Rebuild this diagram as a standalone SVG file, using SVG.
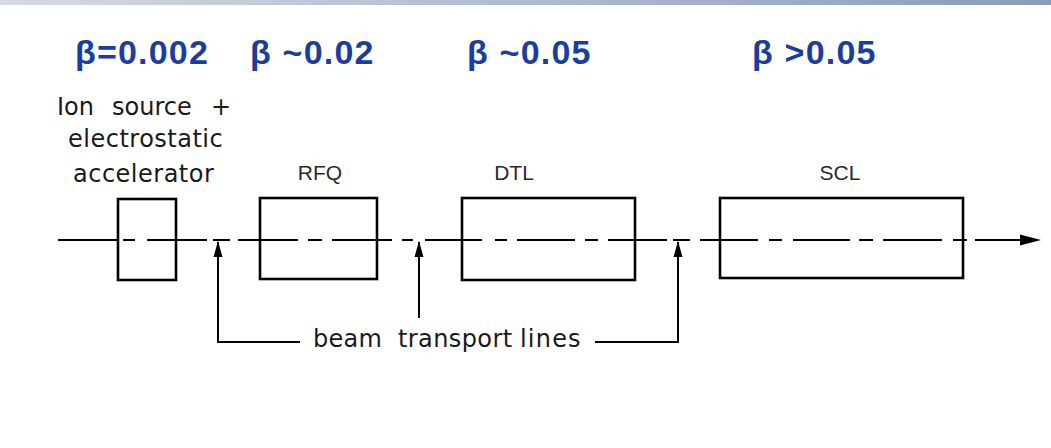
<svg xmlns="http://www.w3.org/2000/svg" width="1051" height="448" viewBox="0 0 1051 448">
  <defs>
    <linearGradient id="bar" x1="0" y1="0" x2="1" y2="0">
      <stop offset="0" stop-color="#d4dae4"/>
      <stop offset="1" stop-color="#8b9cb8"/>
    </linearGradient>
    <marker id="ah" viewBox="0 0 16 10" refX="15" refY="5" markerWidth="16" markerHeight="10" markerUnits="userSpaceOnUse" orient="auto">
      <path d="M0 0.5 L16 5 L0 9.5 Z" fill="#000"/>
    </marker>
  </defs>
  <style>
    .beta { font-family: "Liberation Sans", Arial, sans-serif; font-weight: bold; font-size: 34px; fill: #1b3e9e; letter-spacing: 1.2px; }
    .cad { font-family: "DejaVu Sans", sans-serif; font-size: 24px; fill: #1a1a1a; }
    .lbl { font-family: "Liberation Sans", Arial, sans-serif; font-size: 21px; fill: #2a2a2a; text-anchor: middle; }
    .box { fill: none; stroke: #000; stroke-width: 2.6; }
    .axis { fill: none; stroke: #000; stroke-width: 2; }
    .lead { fill: none; stroke: #000; stroke-width: 2; }
  </style>
  <rect x="0" y="0" width="1051" height="5" fill="url(#bar)"/>
  <rect x="0" y="5" width="1051" height="443" fill="#fff"/>

  <g id="beta-labels">
    <text class="beta" x="75" y="64">β=0.002</text>
    <text class="beta" x="250" y="64">β ~0.02</text>
    <text class="beta" x="467" y="64">β ~0.05</text>
    <text class="beta" x="752" y="64">β &gt;0.05</text>
  </g>

  <g id="connectors">
    <path class="axis" d="M58 240 H118 M123 240 H135 M147 240 H207 M213 240 H230 M238 240 H298 M308 240 H322 M332 240 H392 M402 240 H413 M425 240 H482 M495 240 H507 M517 240 H575 M585 240 H598 M608 240 H667 M673 240 H690 M700 240 H758 M769 240 H782 M793 240 H850 M859 240 H873 M883 240 H942 M953 240 H967 M975 240 H1024"/>
    <path d="M1020 234.5 L1041 240 L1020 245.5 Z" fill="#000"/>
    <path class="lead" d="M300 342 H218 V242" marker-end="url(#ah)"/>
    <path class="lead" d="M419 318 V242" marker-end="url(#ah)"/>
    <path class="lead" d="M595 342 H678 V242" marker-end="url(#ah)"/>
  </g>

  <g id="ion-source">
    <rect class="box" x="118" y="199" width="58" height="81"/>
    <text class="cad" x="57" y="115">Ion</text>
    <text class="cad" x="112" y="115">source</text>
    <text class="cad" x="211" y="115">+</text>
    <text class="cad" x="68" y="147" letter-spacing="0.5">electrostatic</text>
    <text class="cad" x="73" y="182" letter-spacing="0.5">accelerator</text>
  </g>

  <g id="rfq">
    <rect class="box" x="260" y="198" width="117" height="81"/>
    <text class="lbl" x="320" y="180">RFQ</text>
  </g>

  <g id="dtl">
    <rect class="box" x="462" y="198" width="173" height="82"/>
    <text class="lbl" x="514" y="180">DTL</text>
  </g>

  <g id="scl">
    <rect class="box" x="720" y="198" width="243" height="80"/>
    <text class="lbl" x="840" y="180">SCL</text>
  </g>

  <g id="transport-label">
    <text class="cad" x="313" y="347" letter-spacing="0.3">beam</text>
    <text class="cad" x="398" y="347" letter-spacing="0.4">transport</text>
    <text class="cad" x="520" y="347" letter-spacing="1.2">lines</text>
  </g>
</svg>
